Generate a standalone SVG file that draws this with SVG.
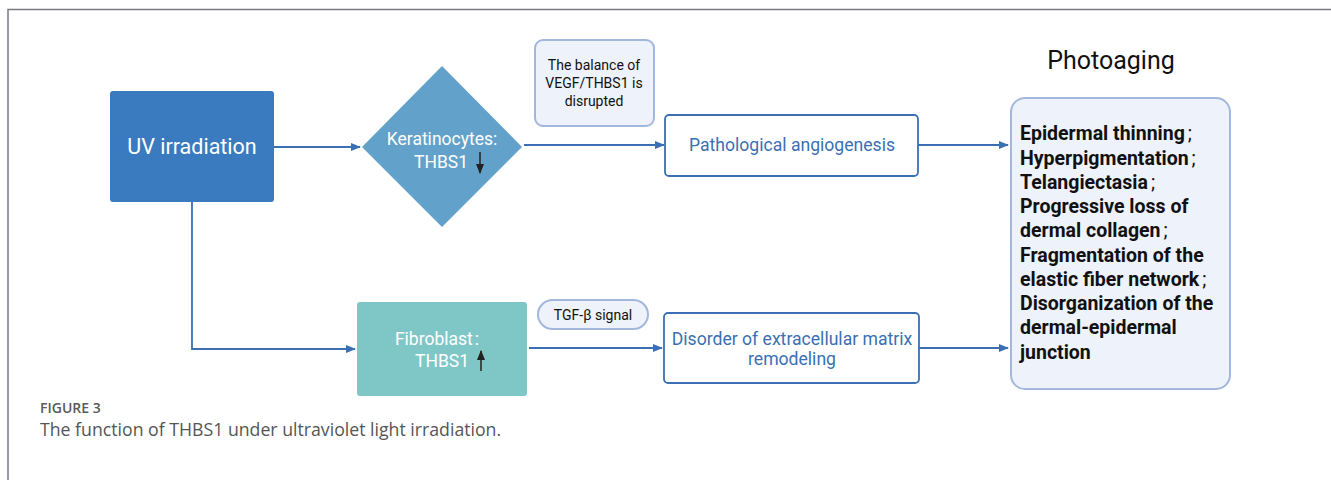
<svg xmlns="http://www.w3.org/2000/svg" width="1331" height="480" viewBox="0 0 1331 480">
<defs>
<marker id="ah" markerWidth="10" markerHeight="8" refX="9" refY="4" orient="auto" markerUnits="userSpaceOnUse"><path d="M0,0 L10,4 L0,8 Z" fill="#3a6fb3"/></marker>
<marker id="bk" markerWidth="10" markerHeight="8" refX="9" refY="4" orient="auto" markerUnits="userSpaceOnUse"><path d="M0,0 L10,4 L0,8 Z" fill="#222"/></marker>
<style>
.t{font-family:Roboto,"Liberation Sans",sans-serif}
.conn{stroke:#3a6fb3;stroke-width:1.8;fill:none}
.note{fill:#eef2fa;stroke:#a3b7dd;stroke-width:2}
.out{fill:#fff;stroke:#3a6fb3;stroke-width:1.8}
.wt{fill:#fff;font-size:17.5px;text-anchor:middle}
.bt{fill:#3a6fb3;font-size:17.6px;text-anchor:middle}
.nt{fill:#111;font-size:14px;text-anchor:middle}
.pt{fill:#111;font-size:19.5px;font-weight:bold}
.sc{font-weight:normal}
</style>
</defs>
<rect width="1331" height="480" fill="#fff"/>
<path d="M8,480 V9.5 H1331" fill="none" stroke="#7a7a82" stroke-width="1.5"/>
<g id="connectors">
<line class="conn" x1="274" y1="147" x2="360" y2="147" marker-end="url(#ah)"/>
<line class="conn" x1="524" y1="145" x2="664" y2="145" marker-end="url(#ah)"/>
<line class="conn" x1="918" y1="145" x2="1008" y2="145" marker-end="url(#ah)"/>
<polyline class="conn" points="192,202 192,349 355,349" marker-end="url(#ah)"/>
<line class="conn" x1="529" y1="348" x2="662" y2="348" marker-end="url(#ah)"/>
<line class="conn" x1="919" y1="348" x2="1008" y2="348" marker-end="url(#ah)"/>
</g>
<g id="uv">
<rect x="110" y="91" width="164" height="111" rx="3" fill="#3a7bbf"/>
<text class="t" x="192" y="154" fill="#fff" font-size="21.5" text-anchor="middle">UV irradiation</text>
</g>
<g id="keratinocytes">
<polygon points="442,66 522,147 442,227 362,147" fill="#62a1c9"/>
<text class="t wt" x="442" y="145">Keratinocytes:</text>
<text class="t wt" x="441" y="168">THBS1</text>
<line x1="480" y1="152" x2="480" y2="173" stroke="#222" stroke-width="1.5" marker-end="url(#bk)"/>
</g>
<g id="balance">
<rect class="note" x="535" y="40" width="119" height="86" rx="8"/>
<text class="t nt" x="594" y="70">The balance of</text>
<text class="t nt" x="594" y="88">VEGF/THBS1 is</text>
<text class="t nt" x="594" y="106">disrupted</text>
</g>
<g id="pathological">
<rect class="out" x="665" y="115" width="253" height="61" rx="4"/>
<text class="t bt" x="792" y="151">Pathological angiogenesis</text>
</g>
<g id="photoaging">
<text class="t" x="1111" y="69" fill="#111" font-size="25" text-anchor="middle">Photoaging</text>
<rect class="note" x="1011" y="98" width="219" height="291" rx="14"/>
<text class="t pt" x="1020">
<tspan x="1020" y="140">Epidermal thinning<tspan class="sc" dx="3">;</tspan></tspan>
<tspan x="1020" y="165">Hyperpigmentation<tspan class="sc" dx="3">;</tspan></tspan>
<tspan x="1020" y="189">Telangiectasia<tspan class="sc" dx="3">;</tspan></tspan>
<tspan x="1020" y="213">Progressive loss of</tspan>
<tspan x="1020" y="237">dermal collagen<tspan class="sc" dx="3">;</tspan></tspan>
<tspan x="1020" y="262">Fragmentation of the</tspan>
<tspan x="1020" y="286">elastic fiber network<tspan class="sc" dx="3">;</tspan></tspan>
<tspan x="1020" y="310">Disorganization of the</tspan>
<tspan x="1020" y="334">dermal-epidermal</tspan>
<tspan x="1020" y="359">junction</tspan>
</text>
</g>
<g id="fibroblast">
<rect x="357" y="302" width="170" height="94" rx="3" fill="#7fc7c7"/>
<text class="t wt" x="437" y="345">Fibroblast<tspan dx="2">:</tspan></text>
<text class="t wt" x="442" y="367">THBS1</text>
<line x1="481" y1="371" x2="481" y2="351" stroke="#222" stroke-width="1.5" marker-end="url(#bk)"/>
</g>
<g id="tgf">
<rect class="note" x="538" y="300" width="110" height="29" rx="14.5"/>
<text class="t nt" x="593" y="320">TGF-β signal</text>
</g>
<g id="disorder">
<rect class="out" x="664" y="313" width="255" height="70" rx="4"/>
<text class="t bt" x="792" y="345">Disorder of extracellular matrix</text>
<text class="t bt" x="792" y="365">remodeling</text>
</g>
<g id="caption">
<text x="40" y="413" font-family="'Open Sans','Liberation Sans',sans-serif" font-size="14" font-weight="600" fill="#5a5a5a">FIGURE 3</text>
<text x="40" y="436" font-family="'Open Sans','Liberation Sans',sans-serif" font-size="17.7" fill="#555">The function of THBS1 under ultraviolet light irradiation.</text>
</g>
</svg>
